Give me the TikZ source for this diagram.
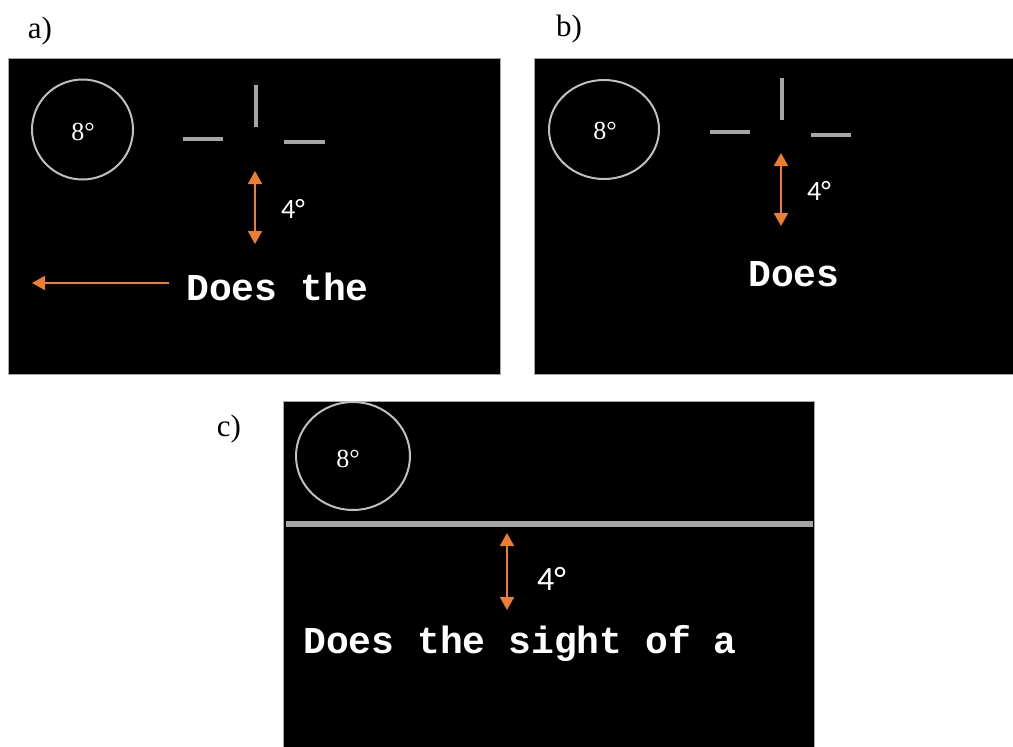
\documentclass[tikz,border=0pt]{standalone}
\usepackage{fontspec}
\setmainfont{Liberation Serif}
\newfontfamily\codefont{Liberation Mono}
\newfontfamily\degfont{Carlito}
\usetikzlibrary{arrows.meta}
\definecolor{orng}{HTML}{ED7D31}
\definecolor{crossgray}{HTML}{A6A6A6}
\definecolor{ringgray}{HTML}{BFBFBF}
\tikzset{
  screen/.style={fill=black, draw=gray!70, line width=0.6pt},
  ring/.style={draw=ringgray, line width=2pt},
  bar/.style={draw=crossgray, line width=4.5pt},
  hbar/.style={draw=crossgray, line width=5.5pt},
  oarrow/.style={draw=orng, line width=1.8pt, -{Triangle[width=14pt,length=13pt]}},
  darrow/.style={draw=orng, line width=1.8pt, {Triangle[width=14pt,length=13pt]}-{Triangle[width=14pt,length=13pt]}},
  panellabel/.style={font=\fontsize{31}{34}\selectfont, inner sep=0pt},
  ringlabel/.style={text=white, font=\fontsize{26}{28}\selectfont, inner sep=0pt},
  deglabel/.style={text=white, font=\degfont\fontsize{28}{30}\selectfont, inner sep=0pt, anchor=base west},
  codetext/.style={text=white, font=\codefont\bfseries\fontsize{38}{40}\selectfont, inner sep=0pt, anchor=base west}
}
\begin{document}
\begin{tikzpicture}[x=1pt,y=-1pt]
\useasboundingbox (0,0) rectangle (1013,747);
% ---------- panel a ----------
\node[panellabel] (la) at (40,31) {a)};
\draw[screen] (8,58) rectangle (500,374);
\draw[ring] (82.5,129.5) ellipse [x radius=50.5, y radius=50];
\node[ringlabel] (ra) at (83,132) {8°};
\draw[bar] (256,85) -- (256,127);
\draw[bar] (183,139) -- (223,139);
\draw[bar] (284,142) -- (325,142);
\coordinate (a1) at (255,171);
\coordinate (a2) at (255,244);
\draw[darrow] (a1) -- (a2);
\node[deglabel] (da) at (281,218) {4°};
\coordinate (a3) at (169,283);
\coordinate (a4) at (32,283);
\draw[oarrow] (a3) -- (a4);
\node[codetext] (ta) at (186,300) {Does the};
% ---------- panel b ----------
\node[panellabel] (lb) at (569,29) {b)};
\draw[screen] (534,58) rectangle (1013,374);
\draw[ring] (604,129.5) ellipse [x radius=55, y radius=49.5];
\node[ringlabel] (rb) at (605,131) {8°};
\draw[bar] (782,78) -- (782,120);
\draw[bar] (710,132) -- (750,132);
\draw[bar] (811,135) -- (851,135);
\coordinate (b1) at (781,153);
\coordinate (b2) at (781,226);
\draw[darrow] (b1) -- (b2);
\node[deglabel] (db) at (807,200) {4°};
\node[codetext] (tb) at (748,286) {Does};
% ---------- panel c ----------
\node[panellabel] (lc) at (229,429) {c)};
\draw[screen] (283,401) rectangle (814,747);
\draw[ring] (353,456) ellipse [x radius=57, y radius=54];
\node[ringlabel] (rc) at (348,459) {8°};
\draw[hbar] (286,524) -- (813,524);
\coordinate (c1) at (507,533);
\coordinate (c2) at (507,610);
\draw[darrow] (c1) -- (c2);
\node[deglabel, font=\degfont\fontsize{34}{36}\selectfont] (dc) at (537,590) {4°};
\node[codetext] (tc) at (303,653) {Does the sight of a};
\end{tikzpicture}
\end{document}
